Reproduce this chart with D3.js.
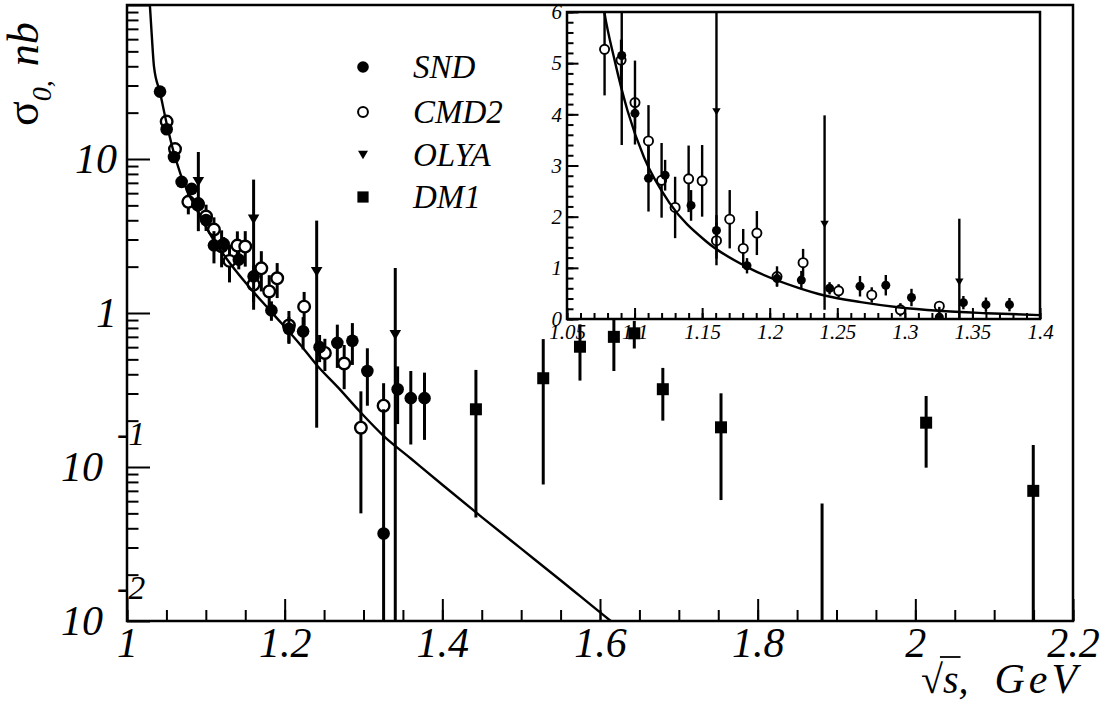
<!DOCTYPE html>
<html>
<head>
<meta charset="utf-8">
<script src="https://cdn.jsdelivr.net/npm/d3@7"></script>
<style>
body { margin: 0; background: #fff; }
text { font-family: "Liberation Serif", "Times New Roman", serif; font-style: italic; fill: #000; }
</style>
</head>
<body>
<svg id="chart" width="1104" height="702"></svg>
<script>
// ---- data ----
var sndX   = [1.0419, 1.0503, 1.0596, 1.0693, 1.0820, 1.0905, 1.1003, 1.1103, 1.1226, 1.1418, 1.1606,
              1.1832, 1.2054, 1.2234, 1.2443, 1.2668, 1.2859, 1.3049, 1.3255, 1.3433, 1.3600, 1.3774];
var sndY   = [27.4, 15.6, 10.3, 7.1, 6.4, 5.15, 4.02, 2.75, 2.81, 2.22, 1.73,
              1.04, 0.79, 0.76, 0.60, 0.64, 0.66, 0.42, 0.037, 0.32, 0.28, 0.28];
var sndErr = [1.2, 0.8, 0.6, 0.5, 0.4, 0.3, 0.3, 0.65, 0.3, 0.3, 0.3,
              0.15, 0.15, 0.18, 0.12, 0.2, 0.2, 0.17, 0.2, 0.13, 0.14, 0.13];

var cmdX   = [1.0503, 1.0609, 1.0778, 1.0900, 1.1003, 1.1103, 1.1200, 1.1300, 1.1400, 1.1500,
              1.1606, 1.1704, 1.1804, 1.1905, 1.2054, 1.2247, 1.2510, 1.2755, 1.2967, 1.3255];
var cmdY   = [17.5, 11.6, 5.27, 5.06, 4.23, 3.48, 2.71, 2.18, 2.74, 2.70,
              1.53, 1.95, 1.38, 1.68, 0.83, 1.10, 0.55, 0.47, 0.18, 0.25];
var cmdErr = [0.8, 0.6, 0.9, 0.4, 0.82, 0.7, 0.73, 0.6, 0.65, 0.7,
              0.35, 0.57, 0.38, 0.43, 0.2, 0.27, 0.13, 0.15, 0.13, 0.1];

var olyaX     = [1.0905, 1.1606, 1.2406, 1.3403];
var olyaY     = [7.1, 4.05, 1.85, 0.72];
var olyaErrLo = [3.7, 3.0, 1.67, 0.72];
var olyaErrHi = [4.0, 3.3, 2.13, 1.24];

var dmX   = [1.4426, 1.5280, 1.5746, 1.6176, 1.6435, 1.6797, 1.7535, 1.8817, 2.0137, 2.1496];
var dmY   = [0.237, 0.377, 0.604, 0.70, 0.738, 0.32, 0.181, 0.004, 0.194, 0.070];
var dmErr = [0.19, 0.30, 0.24, 0.28, 0.15, 0.12, 0.12, 0.054, 0.095, 0.069];

// fitted curve
var fitX = [1.029, 1.0313, 1.0342, 1.0419, 1.0503, 1.0609, 1.077, 1.0853, 1.0948, 1.1071, 1.1261,
            1.1533, 1.1859, 1.2212, 1.2406, 1.2674, 1.295, 1.325, 1.36, 1.40, 1.45, 1.50,
            1.55, 1.6137, 1.63];
var fitY = [100, 65, 40, 27, 17, 10.3, 6.1, 5.05, 4.07, 3.15, 2.26,
            1.51, 0.98, 0.61, 0.46, 0.33, 0.23, 0.16, 0.1135, 0.0767, 0.0473, 0.0295,
            0.0184, 0.01, 0.0086];

var legendNames = ["SND", "CMD2", "OLYA", "DM1"];

var xTickVals   = [1, 1.2, 1.4, 1.6, 1.8, 2, 2.2];
var xTickLabels = ["1", "1.2", "1.4", "1.6", "1.8", "2", "2.2"];
var yTickVals   = [10, 1, 0.1, 0.01];
var yTickBase   = ["10", "1", "10", "10"];
var yTickExp    = ["", "", "-1", "-2"];

var insetXVals   = [1.05, 1.1, 1.15, 1.2, 1.25, 1.3, 1.35, 1.4];
var insetXLabels = ["1.05", "1.1", "1.15", "1.2", "1.25", "1.3", "1.35", "1.4"];
var insetYVals   = [0, 1, 2, 3, 4, 5, 6];

// ---- layout ----
var svg = d3.select("#chart");

var x = d3.scaleLinear().domain([1, 2.2]).range([127, 1073]);
var y = d3.scaleLog().domain([0.01, 100]).range([621, 5]);

var xi = d3.scaleLinear().domain([1.05, 1.4]).range([567, 1040]);
var yi = d3.scaleLinear().domain([0, 6]).range([319, 12]);

var defs = svg.append("defs");
defs.append("clipPath").attr("id", "clipMain").append("rect")
  .attr("x", 127).attr("y", 5).attr("width", 946).attr("height", 616);
defs.append("clipPath").attr("id", "clipInset").append("rect")
  .attr("x", 567).attr("y", 12).attr("width", 473).attr("height", 307);

// marker drawing
function marker(g, type, cx, cy, s) {
  if (type == "filled") {
    g.append("circle").attr("cx", cx).attr("cy", cy).attr("r", s).attr("fill", "#000");
  } else if (type == "open") {
    g.append("circle").attr("cx", cx).attr("cy", cy).attr("r", s * 0.88)
      .attr("fill", "#fff").attr("stroke", "#000").attr("stroke-width", s * 0.36);
  } else if (type == "tri") {
    var h = s * 0.85;
    g.append("path")
      .attr("d", "M" + (cx - s) + "," + (cy - h) + "L" + (cx + s) + "," + (cy - h) + "L" + cx + "," + (cy + h) + "Z")
      .attr("fill", "#000");
  } else {
    g.append("rect").attr("x", cx - s).attr("y", cy - s).attr("width", 2 * s).attr("height", 2 * s)
      .attr("fill", "#000");
  }
}

function series(g, xs, ys, xv, yv, lo, hi, type, size, barW) {
  var minY = ys.domain()[0];
  var isLog = !!ys.base;
  var bars = g.append("g");
  var marks = g.append("g");
  for (var i = 0; i < xv.length; i++) {
    var a = yv[i] - lo[i], b = yv[i] + hi[i];
    if (isLog && a <= 0) a = minY / 10;
    bars.append("line")
      .attr("x1", xs(xv[i])).attr("x2", xs(xv[i]))
      .attr("y1", ys(a)).attr("y2", ys(b))
      .attr("stroke", "#000").attr("stroke-width", barW);
    if (yv[i] > 0) marker(marks, type, xs(xv[i]), ys(yv[i]), size);
  }
}

function drawAll(g, xs, ys, sz, barW) {
  var line = d3.line()
    .x(function(d) { return xs(d[0]); })
    .y(function(d) { return ys(d[1]); })
    .curve(d3.curveMonotoneX);
  var pts = fitX.map(function(v, i) { return [v, fitY[i]]; });
  var bg = g.append("g"), fg = g.append("g");
  series(bg, xs, ys, dmX, dmY, dmErr, dmErr, "square", sz.square, barW);
  series(bg, xs, ys, olyaX, olyaY, olyaErrLo, olyaErrHi, "tri", sz.tri, barW);
  series(bg, xs, ys, cmdX, cmdY, cmdErr, cmdErr, "open", sz.open, barW);
  series(bg, xs, ys, sndX, sndY, sndErr, sndErr, "filled", sz.filled, barW);
  fg.append("path").attr("d", line(pts)).attr("fill", "none")
    .attr("stroke", "#000").attr("stroke-width", 2.4);
}

// ---- main plot ----
var main = svg.append("g").attr("clip-path", "url(#clipMain)");
drawAll(main, x, y, { square: 6, tri: 5.8, open: 6.6, filled: 6.3 }, 3);

// legend
var legTypes = ["filled", "open", "tri", "square"];
var legY = [67, 112, 155, 197];
var legSize = [5.8, 5.6, 5, 5.6];
var leg = svg.append("g");
legendNames.forEach(function(n, i) {
  marker(leg, legTypes[i], 363, legY[i], legSize[i]);
  leg.append("text").attr("x", 413).attr("y", legY[i] + 11)
    .style("font-size", "33px").text(n);
});

// axes (ticks drawn inward)
function styleAxis(g) {
  g.select(".domain").remove();
  g.selectAll(".tick line").attr("stroke", "#000").attr("stroke-width", 2);
}

var xMinor = d3.range(1, 2.2001, 0.05);
svg.append("g").attr("transform", "translate(0,621)")
  .call(d3.axisBottom(x).tickValues(xMinor).tickSize(-11).tickSizeOuter(0).tickFormat(""))
  .call(styleAxis);
svg.append("g").attr("transform", "translate(0,621)")
  .call(d3.axisBottom(x).tickValues(xTickVals).tickSize(-22).tickSizeOuter(0).tickPadding(6)
    .tickFormat(function(d, i) { return xTickLabels[i]; }))
  .call(styleAxis)
  .selectAll("text").style("font-size", "42px");

var yMinor = [];
[-2, -1, 0, 1].forEach(function(e) {
  for (var k = 2; k <= 9; k++) yMinor.push(k * Math.pow(10, e));
});
svg.append("g").attr("transform", "translate(127,0)")
  .call(d3.axisLeft(y).tickValues(yMinor).tickSize(-11.5).tickSizeOuter(0).tickFormat(""))
  .call(styleAxis);
svg.append("g").attr("transform", "translate(127,0)")
  .call(d3.axisLeft(y).tickValues(yTickVals.concat([100])).tickSize(-23).tickSizeOuter(0).tickFormat(""))
  .call(styleAxis);

var yl = svg.append("g");
yTickVals.forEach(function(v, i) {
  var ty = y(v);
  if (yTickExp[i] == "") {
    yl.append("text").attr("x", 117).attr("y", ty + 14).attr("text-anchor", "end")
      .style("font-size", "42px").text(yTickBase[i]);
  } else {
    yl.append("text").attr("x", 103).attr("y", ty + 14).attr("text-anchor", "end")
      .style("font-size", "42px").text(yTickBase[i]);
    yl.append("text").attr("x", 117).attr("y", ty - 22)
      .style("font-size", "34px").text(yTickExp[i]);
  }
});

svg.append("rect").attr("x", 127).attr("y", 5).attr("width", 946).attr("height", 616)
  .attr("fill", "none").attr("stroke", "#000").attr("stroke-width", 2.5);

// axis titles
var yt = svg.append("text").attr("transform", "translate(38,126) rotate(-90)");
yt.append("tspan").style("font-style", "normal").style("font-size", "46px").text("σ");
yt.append("tspan").attr("dy", 13).style("font-size", "28px").text("0,");
yt.append("tspan").attr("dy", -13).attr("dx", 14).style("font-size", "44px").text("nb");

var xt = svg.append("text").attr("x", 921).attr("y", 693).style("font-size", "40px");
var sq = xt.append("tspan").style("font-style", "normal").text("√");
var ss = xt.append("tspan").text("s");
xt.append("tspan").text(",");
xt.append("tspan").attr("dx", 26).style("font-size", "42px").style("letter-spacing", "4px").text("GeV");
// overline of the root sign, over the "s"
var wSq = sq.node().getComputedTextLength(), wS = ss.node().getComputedTextLength();
svg.append("line").attr("x1", 921 + wSq - 3).attr("x2", 921 + wSq + wS + 2)
  .attr("y1", 657).attr("y2", 657)
  .attr("stroke", "#000").attr("stroke-width", 1.8);

// ---- inset ----
svg.append("rect").attr("x", 567).attr("y", 12).attr("width", 473).attr("height", 307).attr("fill", "#fff");
var ins = svg.append("g").attr("clip-path", "url(#clipInset)");
drawAll(ins, xi, yi, { square: 4.5, tri: 4.2, open: 5.2, filled: 4.5 }, 2.4);

svg.append("g").attr("transform", "translate(0,319)")
  .call(d3.axisBottom(xi).tickValues(d3.range(1.05, 1.4001, 0.01)).tickSize(-6).tickSizeOuter(0).tickFormat(""))
  .call(styleAxis);
svg.append("g").attr("transform", "translate(0,319)")
  .call(d3.axisBottom(xi).tickValues(insetXVals).tickSize(-11).tickSizeOuter(0).tickPadding(5)
    .tickFormat(function(d, i) { return insetXLabels[i]; }))
  .call(styleAxis)
  .selectAll("text").style("font-size", "21px");

svg.append("g").attr("transform", "translate(567,0)")
  .call(d3.axisLeft(yi).tickValues(d3.range(0, 6.001, 0.2)).tickSize(-6.5).tickSizeOuter(0).tickFormat(""))
  .call(styleAxis);
svg.append("g").attr("transform", "translate(567,0)")
  .call(d3.axisLeft(yi).tickValues(insetYVals).tickSize(-11.5).tickSizeOuter(0).tickPadding(5)
    .tickFormat(d3.format("d")))
  .call(styleAxis)
  .selectAll("text").style("font-size", "21px");

svg.append("rect").attr("x", 567).attr("y", 12).attr("width", 473).attr("height", 307)
  .attr("fill", "none").attr("stroke", "#000").attr("stroke-width", 2.5);
</script>
</body>
</html>
